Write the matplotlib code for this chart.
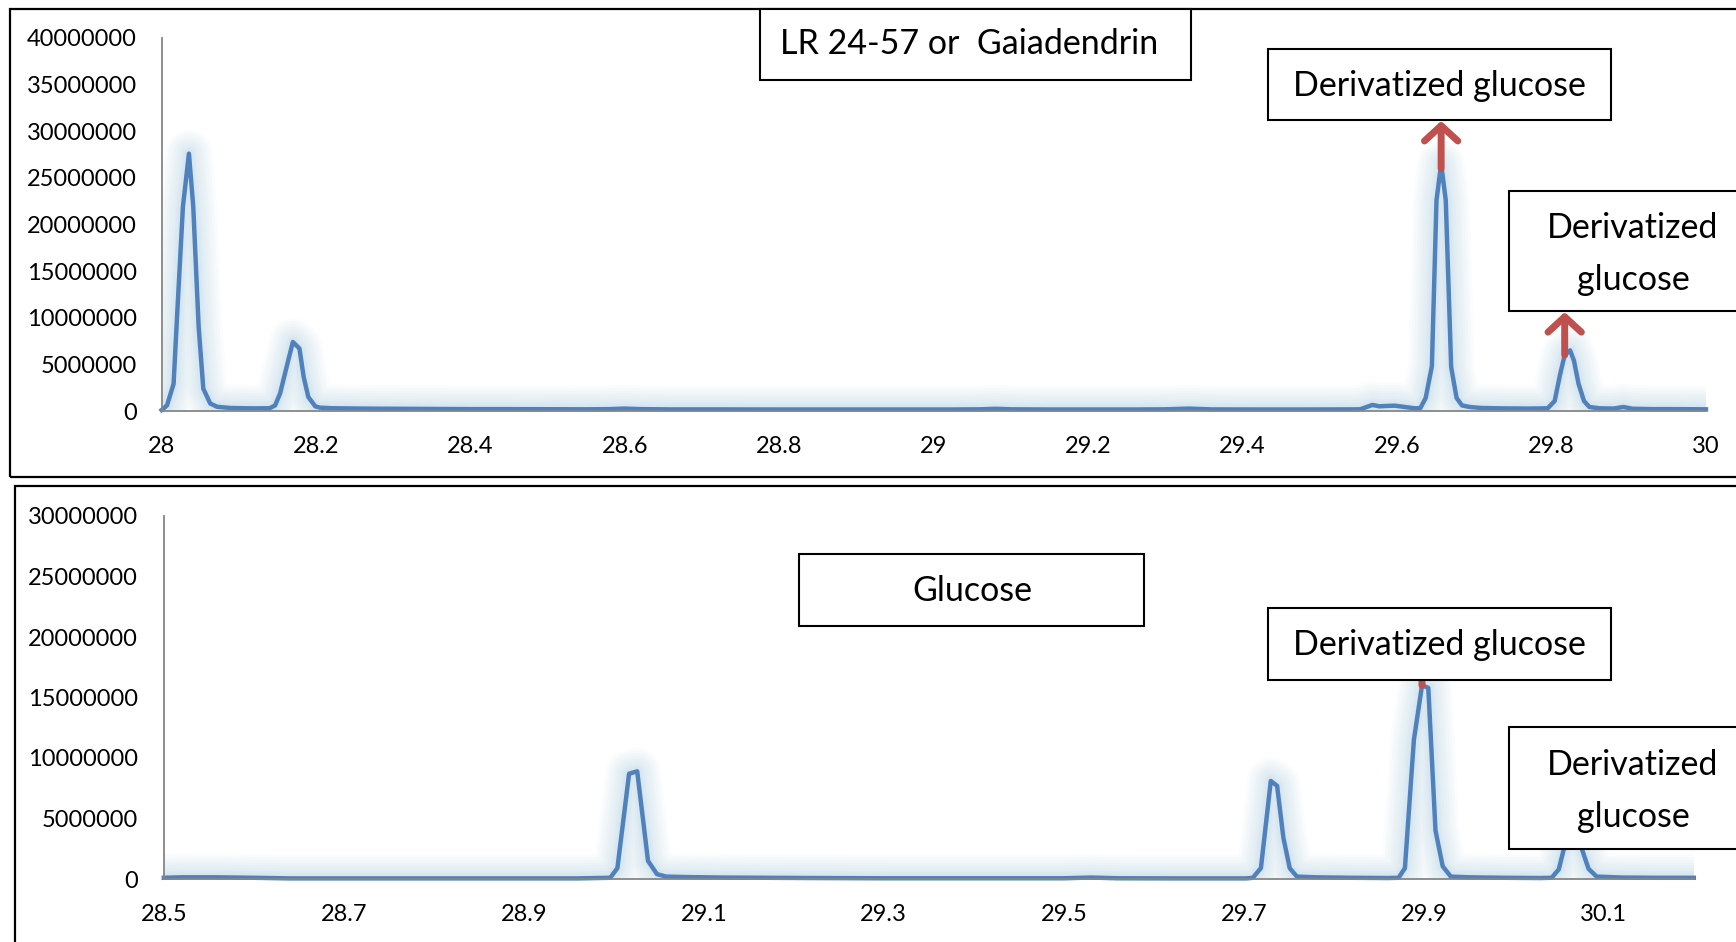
import matplotlib
matplotlib.use("Agg")
import matplotlib.pyplot as plt
from matplotlib.patches import Rectangle

plt.rcParams['font.family'] = ['Lato', 'DejaVu Sans']

# ---------------- data: top chromatogram (LR 24-57 or Gaiadendrin) ----------------
top_rt = [28.000, 28.007, 28.0155, 28.020, 28.0276, 28.0354, 28.041, 28.048, 28.054,
          28.063, 28.072, 28.090, 28.120, 28.140, 28.147, 28.1535, 28.163, 28.170,
          28.1785, 28.184, 28.190, 28.199, 28.205, 28.220, 28.260, 28.300, 28.350,
          28.400, 28.450, 28.500, 28.550, 28.580, 28.600, 28.620, 28.660, 28.720,
          28.800, 28.880, 28.950, 29.020, 29.060, 29.080, 29.100, 29.150, 29.200,
          29.260, 29.300, 29.330, 29.360, 29.420, 29.480, 29.530, 29.552, 29.568,
          29.577, 29.586, 29.597, 29.610, 29.623, 29.630, 29.637, 29.645, 29.651,
          29.657, 29.663, 29.670, 29.677, 29.684, 29.694, 29.710, 29.740, 29.770,
          29.795, 29.804, 29.811, 29.817, 29.824, 29.829, 29.835, 29.842, 29.849,
          29.862, 29.880, 29.893, 29.905, 29.930, 29.960, 30.000]
top_int = [0.10, 0.6, 2.9, 10.1, 21.9, 27.6, 21.9, 9.0, 2.4,
           0.8, 0.45, 0.32, 0.28, 0.30, 0.6, 1.9, 5.1, 7.4,
           6.7, 3.65, 1.5, 0.5, 0.36, 0.30, 0.26, 0.24, 0.22,
           0.20, 0.20, 0.19, 0.18, 0.20, 0.26, 0.20, 0.17, 0.17,
           0.16, 0.16, 0.16, 0.16, 0.18, 0.24, 0.18, 0.16, 0.16,
           0.16, 0.18, 0.26, 0.17, 0.16, 0.16, 0.17, 0.18, 0.65,
           0.50, 0.54, 0.57, 0.43, 0.29, 0.30, 1.4, 4.8, 22.6,
           26.5, 22.6, 4.7, 1.4, 0.6, 0.43, 0.32, 0.28, 0.26,
           0.29, 1.07, 3.9, 6.0, 6.5, 5.4, 2.9, 1.07, 0.43,
           0.29, 0.26, 0.43, 0.24, 0.20, 0.20, 0.18]
top_int = [v * 1e6 for v in top_int]

# ---------------- data: bottom chromatogram (Glucose) ----------------
bot_rt = [28.500, 28.520, 28.560, 28.600, 28.640, 28.700, 28.800, 28.900, 28.960,
          28.996, 29.004, 29.017, 29.026, 29.038, 29.048, 29.058, 29.080, 29.120,
          29.170, 29.220, 29.300, 29.400, 29.500, 29.530, 29.560, 29.620, 29.680,
          29.703, 29.710, 29.719, 29.730, 29.737, 29.744, 29.751, 29.759, 29.780,
          29.820, 29.860, 29.872, 29.879, 29.889, 29.898, 29.905, 29.913, 29.921,
          29.930, 29.950, 29.990, 30.030, 30.042, 30.050, 30.057, 30.064, 30.070,
          30.076, 30.083, 30.092, 30.120, 30.160, 30.200]
bot_int = [0.10, 0.14, 0.14, 0.10, 0.05, 0.05, 0.05, 0.05, 0.05,
           0.10, 0.9, 8.7, 8.9, 1.5, 0.4, 0.2, 0.16, 0.12,
           0.10, 0.08, 0.06, 0.06, 0.06, 0.12, 0.06, 0.05, 0.05,
           0.05, 0.10, 0.9, 8.1, 7.7, 3.4, 0.9, 0.2, 0.14,
           0.10, 0.08, 0.10, 0.9, 11.5, 16.0, 15.8, 4.0, 1.05,
           0.2, 0.14, 0.10, 0.08, 0.10, 0.8, 2.9, 4.3, 3.9,
           2.4, 0.85, 0.2, 0.12, 0.10, 0.10]
bot_int = [v * 1e6 for v in bot_int]

top_xticks = [28.0, 28.2, 28.4, 28.6, 28.8, 29.0, 29.2, 29.4, 29.6, 29.8, 30.0]
top_xlabels = ['28', '28.2', '28.4', '28.6', '28.8', '29', '29.2', '29.4', '29.6', '29.8', '30']
top_yticks = [0, 5e6, 10e6, 15e6, 20e6, 25e6, 30e6, 35e6, 40e6]
top_ylabels = ['0', '5000000', '10000000', '15000000', '20000000', '25000000',
               '30000000', '35000000', '40000000']
bot_xticks = [28.5, 28.7, 28.9, 29.1, 29.3, 29.5, 29.7, 29.9, 30.1]
bot_xlabels = ['28.5', '28.7', '28.9', '29.1', '29.3', '29.5', '29.7', '29.9', '30.1']
bot_yticks = [0, 5e6, 10e6, 15e6, 20e6, 25e6, 30e6]
bot_ylabels = ['0', '5000000', '10000000', '15000000', '20000000', '25000000', '30000000']

# annotated peaks (retention time, start of arrow, arrow tip)
top_arrows = [(29.657, 26.0e6, 31.1e6), (29.817, 6.0e6, 10.6e6)]
bot_arrows = [(29.898, 16.0e6, 20.5e6)]

W, H = 1736, 942
LINE = '#4F81BD'
RED = '#C0504D'
AXC = '#868686'


def fx(px):
    return px / W


def fy(py):
    return 1 - py / H


fig = plt.figure(figsize=(W / 100, H / 100), dpi=100)
fig.patch.set_facecolor('white')

ax1 = fig.add_axes([fx(161.6), fy(411), (1706 - 161.6) / W, (411 - 38) / H])
ax2 = fig.add_axes([fx(163.8), fy(879), (1693.8 - 163.8) / W, (879 - 516) / H])

GLOW = [(34, 0.03), (30, 0.03), (26, 0.035), (22, 0.035), (18, 0.04),
        (14, 0.04), (10, 0.045), (7, 0.05)]


def draw(ax, x, y, xlim, ylim, xt, xl, yt, yl, pad_y):
    for lw, a in GLOW:
        ax.plot(x, y, color='#7FA9DC', lw=lw, alpha=a, solid_joinstyle='round',
                solid_capstyle='round', zorder=1)
    ax.plot(x, y, color=LINE, lw=3.2, solid_joinstyle='round', zorder=2, clip_on=False)
    ax.set_xlim(*xlim)
    ax.set_ylim(*ylim)
    ax.set_xticks(xt)
    ax.set_xticklabels(xl)
    ax.set_yticks(yt)
    ax.set_yticklabels(yl)
    ax.tick_params(axis='both', length=0, labelsize=17, colors='black')
    ax.tick_params(axis='x', pad=18)
    ax.tick_params(axis='y', pad=pad_y)
    for s in ['top', 'right']:
        ax.spines[s].set_visible(False)
    for s in ['left', 'bottom']:
        ax.spines[s].set_color(AXC)
        ax.spines[s].set_linewidth(1.3)
    ax.set_facecolor('none')


draw(ax1, top_rt, top_int, (28, 30), (0, 40e6), top_xticks, top_xlabels,
     top_yticks, top_ylabels, 18)
draw(ax2, bot_rt, bot_int, (28.5, 30.2), (0, 30e6), bot_xticks, bot_xlabels,
     bot_yticks, bot_ylabels, 18.5)

for ax, arrows in [(ax1, top_arrows), (ax2, bot_arrows)]:
    for xr, y0, y1 in arrows:
        ax.annotate('', xy=(xr, y1), xytext=(xr, y0),
                    arrowprops=dict(arrowstyle='->,head_length=0.55,head_width=0.6',
                                    color=RED, lw=5, shrinkA=0, shrinkB=0,
                                    mutation_scale=20, capstyle='round',
                                    joinstyle='round'),
                    zorder=4, annotation_clip=False)

# chart outer borders
fig.add_artist(Rectangle((fx(10), fy(477)), fx(1800) - fx(10), fy(9) - fy(477),
                         transform=fig.transFigure, fill=False, ec='black', lw=1.6))
fig.add_artist(Rectangle((fx(15), fy(1000)), fx(1800) - fx(15), fy(486) - fy(1000),
                         transform=fig.transFigure, fill=False, ec='black', lw=1.6))


def box(x0, y0, x1, y1, lines, cx, cys, fs=24.5):
    fig.add_artist(Rectangle((fx(x0), fy(y1)), fx(x1) - fx(x0), fy(y0) - fy(y1),
                             transform=fig.transFigure, fc='white', ec='black',
                             lw=1.5, zorder=5))
    for t, cy in zip(lines, cys):
        fig.text(fx(cx), fy(cy), t, ha='center', va='center', fontsize=fs,
                 color='black', zorder=6)


box(760, 9, 1191, 80, ['LR 24-57 or  Gaiadendrin'], 969, [44])
box(1267.6, 48.7, 1610.8, 119.6, ['Derivatized glucose'], 1439, [86])
box(1509, 191.5, 1800, 311, ['Derivatized', 'glucose'], 1633, [228, 280])
box(799, 553.5, 1144, 625.5, ['Glucose'], 972, [591])
box(1267.6, 607.8, 1610.8, 679.7, ['Derivatized glucose'], 1439, [645])
box(1509, 727, 1800, 849, ['Derivatized', 'glucose'], 1633, [765, 817])

fig.savefig('out.png', dpi=100)
